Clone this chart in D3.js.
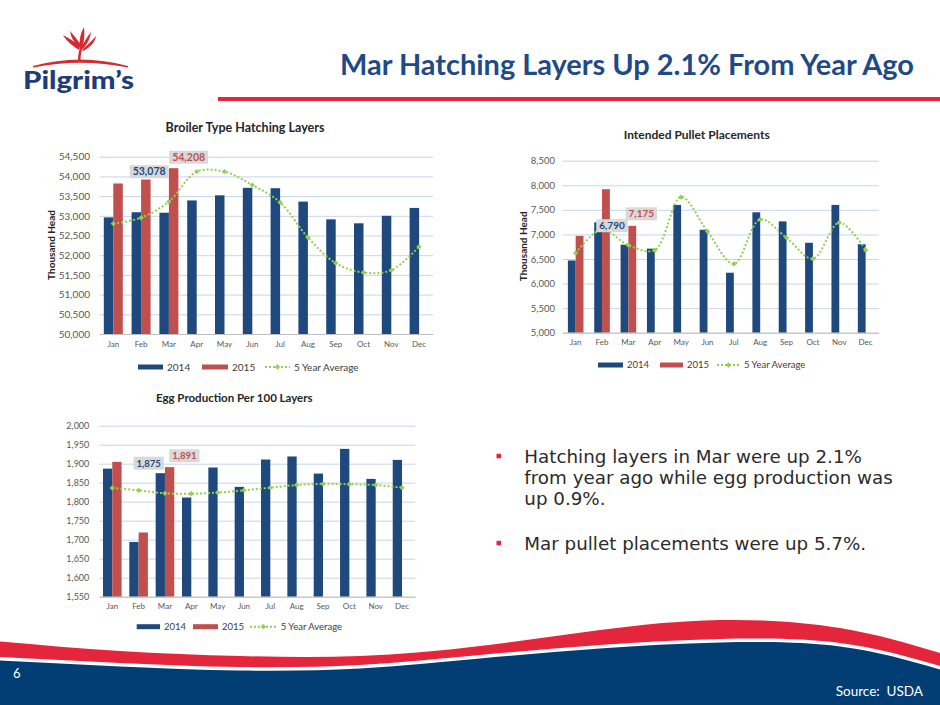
<!DOCTYPE html>
<html>
<head>
<meta charset="utf-8">
<script src="https://cdn.jsdelivr.net/npm/d3@7"></script>
<style>
  body { margin: 0; background: #fff; }
  svg { display: block; }
</style>
</head>
<body>
<div id="slide"></div>
<script>
const months = ['Jan', 'Feb', 'Mar', 'Apr', 'May', 'Jun', 'Jul', 'Aug', 'Sep', 'Oct', 'Nov', 'Dec']
const series = ['2014', '2015']

// Broiler type hatching layers (thousand head)
const broiler2014 = [52960, 53090, 53078, 53390, 53520, 53710, 53700, 53360, 52910, 52810, 53000, 53200]
const broiler2015 = [53820, 53920, 54208]
const broilerAvg = [52800, 52950, 53360, 54120, 54120, 53780, 53340, 52450, 51800, 51560, 51620, 52220]
const broilerTicks = [50000, 50500, 51000, 51500, 52000, 52500, 53000, 53500, 54000, 54500]

// Intended pullet placements (thousand head)
const pullet2014 = [6470, 7245, 6790, 6710, 7600, 7095, 6220, 7450, 7265, 6830, 7600, 6800]
const pullet2015 = [6970, 7920, 7175]
const pulletAvg = [6620, 7100, 6780, 6680, 7760, 7060, 6400, 7305, 6930, 6505, 7240, 6680]
const pulletTicks = [5000, 5500, 6000, 6500, 7000, 7500, 8000, 8500]

// Egg production per 100 layers
const egg2014 = [1887, 1694, 1875, 1811, 1890, 1839, 1911, 1919, 1874, 1939, 1860, 1910]
const egg2015 = [1905, 1719, 1891]
const eggAvg = [1836, 1830, 1822, 1821, 1824, 1830, 1837, 1844, 1847, 1846, 1844, 1837]
const eggTicks = [1550, 1600, 1650, 1700, 1750, 1800, 1850, 1900, 1950, 2000]

const bullets = [
  ['Hatching layers in Mar were up 2.1%', 'from year ago while egg production was', 'up 0.9%.'],
  ['Mar pullet placements were up 5.7%.']
]

const colors = {'2014': '#1f497d', '2015': '#c0504d', avg: '#92d050'}
const font = 'Lato, "Open Sans", sans-serif'
const fmt = d3.format(',')

const svg = d3.select('#slide')
  .append('svg')
  .attr('width', 940)
  .attr('height', 705)
  .style('font-family', font)

// ---------- header ----------
const header = svg.append('g').attr('class', 'header')

header.append('text')
  .attr('x', 340)
  .attr('y', 75)
  .attr('font-size', 29)
  .attr('font-weight', 'bold')
  .attr('fill', '#1f4a86')
  .attr('textLength', 574)
  .attr('lengthAdjust', 'spacingAndGlyphs')
  .text('Mar Hatching Layers Up 2.1% From Year Ago')

header.append('rect')
  .attr('x', 218).attr('y', 97)
  .attr('width', 722).attr('height', 4)
  .attr('fill', '#e4253b')

// logo
const logo = header.append('g').attr('fill', '#d52b32')
logo.append('path').attr('d', 'M33,66 Q80,53 128,66 L128,67.5 Q80,58 33,67.5 Z')
logo.append('path').attr('d', 'M78,60 C78,55 79,51 80,47 L82.5,47 C81.5,51 80.5,55 80.5,60 Z')
logo.append('path').attr('d', 'M79,50 C73,46 67,42 63,35 C69,38 75,42 80,46 Z')
logo.append('path').attr('d', 'M79,48 C75,43 71,38 70,31 C74,36 78,40 81,45 Z')
logo.append('path').attr('d', 'M80,48 C79,41 80,34 84,27 C85,34 84,41 82.5,48 Z')
logo.append('path').attr('d', 'M81,48 C84,42 87,37 91,32 C90,38 88,43 83,49 Z')
logo.append('path').attr('d', 'M82,50 C87,45 92,41 96,36 C95,42 91,47 83,51 Z')
header.append('text')
  .attr('x', 23).attr('y', 89)
  .attr('font-size', 24)
  .attr('font-weight', 900)
  .attr('fill', '#1d3c78')
  .attr('textLength', 111)
  .attr('lengthAdjust', 'spacingAndGlyphs')
  .text('Pilgrim\u2019s')

// ---------- charts ----------
const drawChart = (cfg) => {
  const g = svg.append('g').attr('class', 'chart')

  const x0 = d3.scaleBand()
    .domain(months)
    .range([cfg.left, cfg.right])
    .paddingInner(cfg.pad)
    .paddingOuter(cfg.pad / 2)
  const x1 = d3.scaleBand().domain(series).range([0, x0.bandwidth()])
  const y = d3.scaleLinear().domain(d3.extent(cfg.ticks)).range([cfg.bottom, cfg.top])
  const cx = m => x0(m) + x0.bandwidth() / 2

  // title
  g.append('text')
    .attr('x', cfg.titleX).attr('y', cfg.titleY)
    .attr('text-anchor', 'middle')
    .attr('font-size', cfg.titleSize)
    .attr('font-weight', 'bold')
    .attr('fill', '#262626')
    .text(cfg.title)

  // y axis with gridlines
  const yAxis = g.append('g')
    .attr('transform', `translate(${cfg.left},0)`)
    .call(d3.axisLeft(y).tickValues(cfg.ticks).tickFormat(fmt)
      .tickSize(-(cfg.right - cfg.left)).tickPadding(cfg.tickPad))
    .call(a => a.select('.domain').remove())
  yAxis.selectAll('.tick line').attr('stroke', '#c6d5ee')
  yAxis.selectAll('.tick text')
    .attr('fill', '#595959')
    .style('font-family', font)
    .style('font-size', cfg.tickSize + 'px')

  if (cfg.yTitle) {
    g.append('text')
      .attr('transform', `translate(${cfg.yTitleX},${cfg.yTitleY}) rotate(-90)`)
      .attr('text-anchor', 'middle')
      .attr('dy', '0.35em')
      .attr('font-size', 10)
      .attr('font-weight', 'bold')
      .attr('fill', '#262626')
      .text(cfg.yTitle)
  }

  // bars
  const rows = months.map((m, i) => ({
    month: m,
    values: [{key: '2014', v: cfg.a[i]}, {key: '2015', v: cfg.b[i]}].filter(d => d.v != null)
  }))
  g.append('g')
    .selectAll('g')
    .data(rows)
    .join('g')
    .attr('transform', d => `translate(${x0(d.month)},0)`)
    .selectAll('rect')
    .data(d => d.values)
    .join('rect')
    .attr('x', d => x1(d.key))
    .attr('width', x1.bandwidth())
    .attr('y', d => y(d.v))
    .attr('height', d => cfg.bottom - y(d.v))
    .attr('fill', d => colors[d.key])

  // x axis
  const xAxis = g.append('g')
    .attr('transform', `translate(0,${cfg.bottom})`)
    .call(d3.axisBottom(x0).tickSize(0).tickPadding(cfg.xPad))
  xAxis.select('.domain').attr('stroke', '#bfbfbf')
  xAxis.selectAll('.tick text')
    .attr('fill', '#595959')
    .style('font-family', font)
    .style('font-size', '8px')

  // 5 year average
  const line = d3.line()
    .x((d, i) => cx(months[i]))
    .y(d => y(d))
    .curve(d3.curveCatmullRom)
  g.append('path')
    .datum(cfg.avg)
    .attr('d', line)
    .attr('fill', 'none')
    .attr('stroke', colors.avg)
    .attr('stroke-width', 2)
    .attr('stroke-dasharray', '2 2')
  g.append('g')
    .selectAll('path')
    .data(cfg.avg)
    .join('path')
    .attr('transform', (d, i) => `translate(${cx(months[i])},${y(d)}) rotate(45)`)
    .attr('d', d3.symbol(d3.symbolSquare, 14))
    .attr('fill', colors.avg)

  // callouts
  cfg.callouts.forEach(c => {
    const i = months.indexOf(c.month)
    const v = (c.series === '2014' ? cfg.a : cfg.b)[i]
    const lx = x0(c.month) + x1(c.series) + x1.bandwidth() / 2 + c.dx
    const ly = y(v) + c.dy
    const lg = g.append('g')
    const box = lg.append('rect')
    const t = lg.append('text')
      .attr('x', lx).attr('y', ly)
      .attr('dy', '0.35em')
      .attr('text-anchor', 'middle')
      .attr('font-size', cfg.calloutSize)
      .attr('font-weight', 'bold')
      .attr('fill', colors[c.series])
      .text(fmt(v))
    const w = t.node().getComputedTextLength()
    box.attr('x', lx - w / 2 - 3).attr('y', ly - 6.5)
      .attr('width', w + 6).attr('height', 13)
      .attr('fill', '#d9d9d9')
  })

  // legend
  const lgd = g.append('g').attr('transform', `translate(0,${cfg.legendY})`)
  const items = [
    {type: 'bar', key: '2014', label: '2014'},
    {type: 'bar', key: '2015', label: '2015'},
    {type: 'line', key: 'avg', label: '5 Year Average'}
  ]
  items.forEach((it, k) => {
    const lx = cfg.legendX[k]
    const lw = cfg.legendW[k]
    if (it.type === 'bar') {
      lgd.append('rect')
        .attr('x', lx).attr('y', -2.5)
        .attr('width', lw).attr('height', 5)
        .attr('fill', colors[it.key])
    } else {
      lgd.append('line')
        .attr('x1', lx).attr('x2', lx + lw)
        .attr('stroke', colors.avg)
        .attr('stroke-width', 2)
        .attr('stroke-dasharray', '2 2')
      lgd.append('path')
        .attr('transform', `translate(${lx + lw / 2},0) rotate(45)`)
        .attr('d', d3.symbol(d3.symbolSquare, 14))
        .attr('fill', colors.avg)
    }
    lgd.append('text')
      .attr('x', lx + lw + 4)
      .attr('dy', '0.35em')
      .attr('font-size', cfg.legendSize)
      .attr('fill', '#404040')
      .text(it.label)
  })
}

drawChart({
  title: 'Broiler Type Hatching Layers', titleX: 245, titleY: 131.5, titleSize: 12.5,
  yTitle: 'Thousand Head', yTitleX: 51.7, yTitleY: 245,
  left: 99.4, right: 433, top: 156.7, bottom: 334, pad: 0.317,
  ticks: broilerTicks, tickPad: 9.4, tickSize: 10, xPad: 7.6,
  a: broiler2014, b: broiler2015, avg: broilerAvg,
  callouts: [
    {series: '2014', month: 'Mar', dx: -15, dy: -41},
    {series: '2015', month: 'Mar', dx: 15, dy: -11}
  ],
  calloutSize: 10.5,
  legendY: 367, legendX: [138, 202, 265], legendW: [25, 26, 25], legendSize: 10
})

drawChart({
  title: 'Intended Pullet Placements', titleX: 696.7, titleY: 139, titleSize: 12,
  yTitle: 'Thousand Head', yTitleX: 523.3, yTitleY: 246.3,
  left: 562.5, right: 878.8, top: 160.7, bottom: 332.7, pad: 0.408,
  ticks: pulletTicks, tickPad: 7.5, tickSize: 9.5, xPad: 6.6,
  a: pullet2014, b: pullet2015, avg: pulletAvg,
  callouts: [
    {series: '2014', month: 'Mar', dx: -12.5, dy: -19},
    {series: '2015', month: 'Mar', dx: 9, dy: -12}
  ],
  calloutSize: 10,
  legendY: 365, legendX: [598, 660, 717], legendW: [25, 23, 23], legendSize: 9.5
})

drawChart({
  title: 'Egg Production Per 100 Layers', titleX: 234.3, titleY: 401.5, titleSize: 11.5,
  left: 99.1, right: 415.2, top: 425.7, bottom: 596.7, pad: 0.294,
  ticks: eggTicks, tickPad: 9.8, tickSize: 9, xPad: 6.3,
  a: egg2014, b: egg2015, avg: eggAvg,
  callouts: [
    {series: '2014', month: 'Mar', dx: -11.6, dy: -10},
    {series: '2015', month: 'Mar', dx: 14.8, dy: -11.3}
  ],
  calloutSize: 9.5,
  legendY: 626.7, legendX: [136.7, 193, 250], legendW: [23.3, 25, 26.7], legendSize: 9.5
})

// ---------- bullet text ----------
const txt = svg.append('g').attr('class', 'bullets')
const lineH = 21
let by = 463.3
bullets.forEach(lines => {
  txt.append('rect')
    .attr('x', 496.5).attr('y', by - 9.5)
    .attr('width', 4.5).attr('height', 4.5)
    .attr('fill', '#e4253b')
  lines.forEach((l, k) => {
    txt.append('text')
      .attr('x', 524.3).attr('y', by + k * lineH)
      .attr('font-family', '"DejaVu Sans", Verdana, sans-serif')
      .attr('font-size', 18.3)
      .attr('fill', '#2b2b2b')
      .text(l)
  })
  by += (lines.length + 1) * lineH + 3
})

// ---------- footer wave ----------
const waveX = [0, 120, 240, 360, 480, 600, 720, 840, 940]
const waveTop = [641.5, 651, 656, 656, 646, 630, 620, 628, 653]
const waveBot = [657, 663, 667, 665, 655, 645, 639, 643, 666]
const footer = svg.append('g').attr('class', 'footer')
const redArea = d3.area()
  .x((d, i) => waveX[i])
  .y0((d, i) => waveBot[i])
  .y1((d, i) => waveTop[i])
  .curve(d3.curveNatural)
const blueArea = d3.area()
  .x((d, i) => waveX[i])
  .y0(705)
  .y1((d, i) => waveBot[i] + 3.5)
  .curve(d3.curveNatural)
footer.append('path').datum(waveX).attr('d', redArea).attr('fill', '#e4253b')
footer.append('path').datum(waveX).attr('d', blueArea).attr('fill', '#023e73')

footer.append('text')
  .attr('x', 13).attr('y', 677.5)
  .attr('font-size', 13)
  .attr('fill', '#fff')
  .text('6')
footer.append('text')
  .attr('x', 923).attr('y', 696)
  .attr('text-anchor', 'end')
  .attr('font-size', 13.5)
  .attr('fill', '#fff')
  .style('white-space', 'pre')
  .text('Source:  USDA')
</script>
</body>
</html>
